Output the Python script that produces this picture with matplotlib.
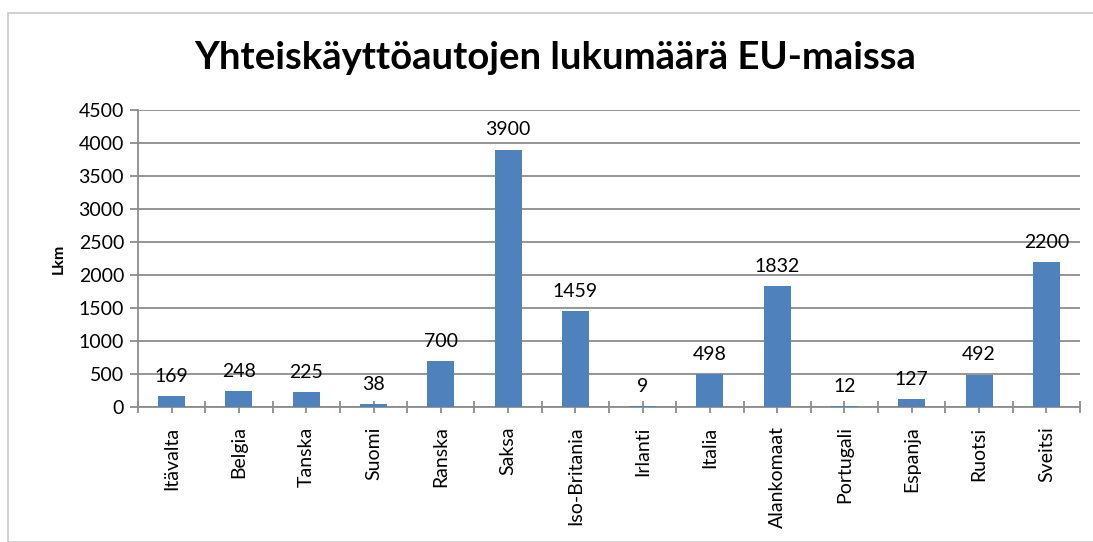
import matplotlib
matplotlib.use("Agg")
import matplotlib.pyplot as plt
from matplotlib.patches import Rectangle
import numpy as np

countries = ["Itävalta", "Belgia", "Tanska", "Suomi", "Ranska", "Saksa", "Iso-Britania",
             "Irlanti", "Italia", "Alankomaat", "Portugali", "Espanja", "Ruotsi", "Sveitsi"]
cars = [169, 248, 225, 38, 700, 3900, 1459, 9, 498, 1832, 12, 127, 492, 2200]
yticks = [0, 500, 1000, 1500, 2000, 2500, 3000, 3500, 4000, 4500]

plt.rcParams['font.family'] = ['Lato', 'DejaVu Sans']
grid_col = '#8c8c8c'

fig = plt.figure(figsize=(10.93, 5.42), dpi=100)
fig.patches.append(Rectangle((8 / 1093, 0.0), 1.0, 1 - 13 / 542, transform=fig.transFigure,
                             fill=False, edgecolor='#c8c8c8', linewidth=1.2))
ax = fig.add_axes([138 / 1093, 1 - 407 / 542, (1080 - 138) / 1093, (407 - 110) / 542])

x = np.arange(len(countries))
ax.bar(x, cars, width=0.4, color='#4f81bd', zorder=3)
for xi, v in zip(x, cars):
    ax.annotate(str(v), (xi, v), xytext=(0, 8), textcoords='offset points',
                ha='center', va='bottom', fontsize=14)

ax.set_xlim(-0.5, len(countries) - 0.5)
ax.set_ylim(0, 4500)
ax.set_yticks(yticks)
ax.set_yticklabels([str(t) for t in yticks], fontsize=14)
ax.yaxis.grid(True, color=grid_col, linewidth=1.3, zorder=0)

# boundary ticks (major) and centre ticks with the country names (minor)
ax.set_xticks(np.arange(len(countries) + 1) - 0.5)
ax.set_xticklabels([])
ax.set_xticks(x, minor=True)
ax.set_xticklabels(countries, minor=True, rotation=90, fontsize=14)
ax.tick_params(axis='x', which='both', direction='inout', length=8, color=grid_col, width=1.3)
ax.tick_params(axis='x', which='minor', pad=10)
ax.tick_params(axis='y', direction='out', length=6, color=grid_col, width=1.3, pad=4)

for s in ['top', 'right']:
    ax.spines[s].set_visible(False)
for s in ['left', 'bottom']:
    ax.spines[s].set_color(grid_col)
    ax.spines[s].set_linewidth(1.3)

ax.set_ylabel("Lkm", fontsize=11.5, fontweight='bold', labelpad=9)
fig.text(555 / 1093, 1 - 58 / 542, "Yhteiskäyttöautojen lukumäärä EU-maissa",
         ha='center', va='center', fontsize=27.5, fontweight='bold')

fig.savefig("out.png", dpi=100)
